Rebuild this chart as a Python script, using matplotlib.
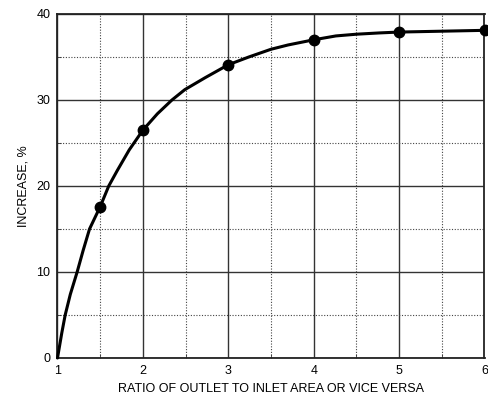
import matplotlib
matplotlib.use("Agg")
import matplotlib.pyplot as plt
from matplotlib.ticker import MultipleLocator

plt.rcParams['font.family'] = ['Liberation Sans', 'DejaVu Sans']

# measured points (markers)
ratio_pts = [1.5, 2, 3, 4, 5, 6]
increase_pts = [17.6, 26.5, 34.1, 37.0, 37.9, 38.1]

# traced curve through the measured points
ratio_curve = [1.0, 1.05, 1.09, 1.15, 1.23, 1.30, 1.375, 1.5, 1.6, 1.7, 1.77,
               1.84, 2.0, 2.17, 2.34, 2.49, 2.73, 3.0, 3.24, 3.5, 3.7,
               4.0, 4.26, 4.5, 4.77, 5.0, 5.5, 6.0]
increase_curve = [0.0, 2.9, 5.0, 7.4, 10.0, 12.5, 15.0, 17.6, 20.0, 21.8, 23.0,
                  24.2, 26.5, 28.4, 30.0, 31.2, 32.6, 34.1, 35.0, 35.9, 36.4,
                  37.0, 37.45, 37.65, 37.8, 37.9, 38.0, 38.1]

fig = plt.figure(figsize=(4.89, 3.94), dpi=100)
ax = fig.add_axes([57.5 / 489, 36 / 394, 427 / 489, 344 / 394])

ax.plot(ratio_curve, increase_curve, color='black', lw=2.2, zorder=3,
        clip_on=False, solid_capstyle='round', solid_joinstyle='round')
ax.plot(ratio_pts, increase_pts, 'o', color='black', ms=7.5, zorder=4,
        clip_on=False)

ax.set_xlim(1, 6)
ax.set_ylim(0, 40)
ax.xaxis.set_major_locator(MultipleLocator(1))
ax.xaxis.set_minor_locator(MultipleLocator(0.5))
ax.yaxis.set_major_locator(MultipleLocator(10))
ax.yaxis.set_minor_locator(MultipleLocator(5))

ax.grid(which='major', color='#333333', lw=1.0, ls='-')
ax.grid(which='minor', color='#444444', lw=0.8, ls=(0, (1, 1.5)))
ax.set_axisbelow(True)

for s in ax.spines.values():
    s.set_color('#222222')
    s.set_linewidth(1.3)

ax.tick_params(which='both', direction='in', length=3, color='#333333',
               labelsize=9, pad=5)
ax.tick_params(which='major', length=0)

ax.set_xlabel('RATIO OF OUTLET TO INLET AREA OR VICE VERSA', fontsize=9,
              labelpad=4)
ax.set_ylabel('INCREASE, %', fontsize=9, labelpad=5)

fig.savefig('out.png', dpi=100)
